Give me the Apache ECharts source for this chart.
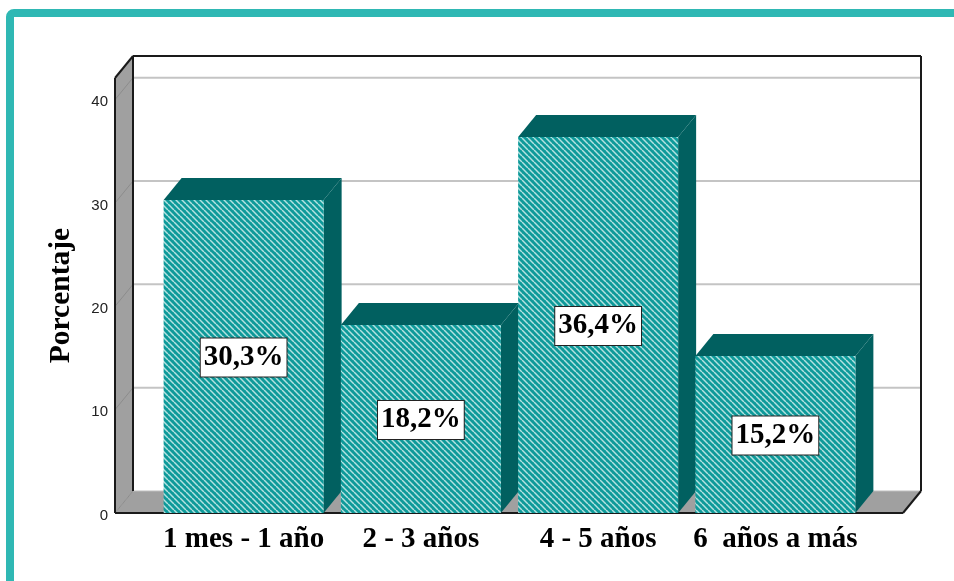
<!DOCTYPE html>
<html>
<head>
<meta charset="utf-8">
<style>
  html, body { margin: 0; padding: 0; background: #fff; }
  #chart { width: 954px; height: 581px; }
</style>
</head>
<body>
<div id="chart"></div>
<script src="https://cdn.jsdelivr.net/npm/echarts@6/dist/echarts.min.js"></script>
<script>
const categories = ['1 mes - 1 año', '2 - 3 años', '4 - 5 años', '6  años a más']
const values = [30.3, 18.2, 36.4, 15.2]
const yTicks = [0, 10, 20, 30, 40]

const DX = 18
const DY = 22
const BAR_W = 160
const LEFT = 115
const RIGHT = 903
const Y_MAX = 42.1
const SERIF = '"Liberation Serif", "DejaVu Serif", serif'

// diagonal hatch used on the bar fronts
function hatchTile() {
  const size = 6
  const c = document.createElement('canvas')
  c.width = size
  c.height = size
  const ctx = c.getContext('2d')
  ctx.fillStyle = '#0e9a9a'
  ctx.fillRect(0, 0, size, size)
  ctx.strokeStyle = '#b4e2e0'
  ctx.lineWidth = 1.5
  for (let i = -size; i <= size; i += size) {
    ctx.beginPath()
    ctx.moveTo(i, 0)
    ctx.lineTo(i + size, size)
    ctx.stroke()
  }
  return c
}
const hatch = { image: hatchTile(), repeat: 'repeat' }

function poly(points, fill) {
  return { type: 'polygon', shape: { points }, style: { fill } }
}

function line(x1, y1, x2, y2, stroke, lineWidth) {
  return {
    type: 'line',
    shape: { x1, y1, x2, y2 },
    style: { stroke, lineWidth: lineWidth || 1 },
  }
}

// back wall, side wall, floor, gridlines and the tick labels (they sit a bit below the tick)
function renderFrame(params, api) {
  const y0 = api.coord([0, 0])[1]
  const yTop = api.coord([0, Y_MAX])[1]
  const bl = LEFT + DX
  const br = RIGHT + DX
  const black = '#1a1a1a'
  const children = [
    poly([[LEFT, yTop], [bl, yTop - DY], [bl, y0 - DY], [LEFT, y0]], '#a0a0a0'),
    poly([[LEFT, y0], [bl, y0 - DY], [br, y0 - DY], [RIGHT, y0]], '#a0a0a0'),
  ]
  yTicks.forEach(t => {
    const y = api.coord([0, t])[1]
    if (t > 0) children.push(line(bl + 1, y - DY, br - 1, y - DY, '#c4c4c4', 2))
    children.push(line(LEFT, y, bl, y - DY, '#8c8c8c', 1))
    children.push({
      type: 'text',
      style: {
        x: 108,
        y: y + 2.5,
        text: String(t),
        align: 'right',
        verticalAlign: 'middle',
        font: '15px "Liberation Sans", Arial, sans-serif',
        fill: '#222',
      },
    })
  })
  children.push(
    line(bl, y0 - DY, br, y0 - DY, '#bdbdbd', 1),
    line(bl, yTop - DY, br, yTop - DY, black, 2),
    line(br, yTop - DY, br, y0 - DY, black, 2),
    line(bl, yTop - DY, bl, y0 - DY, black, 2),
    line(LEFT, yTop, bl, yTop - DY, black, 2),
    line(LEFT, yTop, LEFT, y0, black, 2),
    line(LEFT, y0, RIGHT, y0, black, 2),
    line(RIGHT, y0, br, y0 - DY, black, 2)
  )
  return { type: 'group', children }
}

function renderBar(params, api) {
  const p = api.coord([api.value(0), api.value(1)])
  const y0 = api.coord([api.value(0), 0])[1]
  const x0 = p[0] - BAR_W / 2
  const x1 = p[0] + BAR_W / 2
  const y = p[1]
  const dark = '#016060'
  return {
    type: 'group',
    children: [
      poly([[x1, y], [x1 + DX, y - DY], [x1 + DX, y0 - DY], [x1, y0]], dark),
      poly([[x0, y], [x0 + DX, y - DY], [x1 + DX, y - DY], [x1, y]], dark),
      { type: 'rect', shape: { x: x0, y, width: BAR_W, height: y0 - y }, style: { fill: hatch } },
      {
        type: 'text',
        z2: 10,
        style: {
          x: p[0],
          y: (y + y0) / 2 + 1,
          text: api.value(1).toFixed(1).replace('.', ',') + '%',
          align: 'center',
          verticalAlign: 'middle',
          font: 'bold 29px ' + SERIF,
          fill: '#000',
          backgroundColor: '#fff',
          borderColor: '#222',
          borderWidth: 1,
          padding: [6, 3, 3, 3],
        },
      },
    ],
  }
}

const chart = echarts.init(document.getElementById('chart'))
chart.setOption({
  backgroundColor: '#fff',
  animation: false,
  grid: { left: 155, right: 90, top: 78, bottom: 68 },
  graphic: [{
    type: 'rect',
    shape: { x: 10, y: 13, width: 1100, height: 800, r: 4 },
    style: { fill: 'none', stroke: '#2fb8b4', lineWidth: 8 },
    z: 0,
  }],
  xAxis: {
    type: 'category',
    data: categories,
    axisLine: { show: false },
    axisTick: { show: false },
    axisLabel: {
      color: '#000',
      fontFamily: SERIF,
      fontWeight: 'bold',
      fontSize: 29,
      margin: 12,
      interval: 0,
    },
  },
  yAxis: {
    type: 'value',
    min: 0,
    max: Y_MAX,
    interval: 10,
    offset: 40,
    name: 'Porcentaje',
    nameLocation: 'middle',
    nameGap: 39,
    nameTextStyle: { color: '#000', fontFamily: SERIF, fontWeight: 'bold', fontSize: 29.5 },
    axisLine: { show: false },
    axisTick: { show: false },
    splitLine: { show: false },
    axisLabel: { show: false },
  },
  series: [
    { type: 'custom', z: 1, silent: true, clip: false, data: [[0, 0]], renderItem: renderFrame },
    {
      type: 'custom',
      z: 2,
      clip: false,
      encode: { x: 0, y: 1 },
      data: values.map((v, i) => [i, v]),
      renderItem: renderBar,
    },
  ],
})
</script>
</body>
</html>
